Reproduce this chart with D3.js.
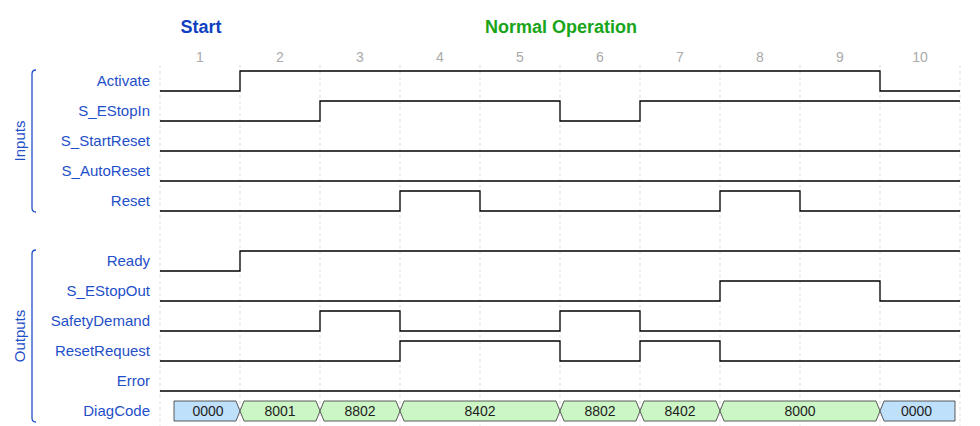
<!DOCTYPE html><html><head><meta charset="utf-8"><script src="https://cdn.jsdelivr.net/npm/d3@7"></script>
<style>body{margin:0;background:#fff}</style></head><body><svg id="c" width="980" height="426"></svg>
<script>
const steps=[1,2,3,4,5,6,7,8,9,10];
const inputNames=["Activate","S_EStopIn","S_StartReset","S_AutoReset","Reset"];
const inputWaves=[[0,1,1,1,1,1,1,1,1,0],[0,0,1,1,1,0,1,1,1,1],[0,0,0,0,0,0,0,0,0,0],[0,0,0,0,0,0,0,0,0,0],[0,0,0,1,0,0,0,1,0,0]];
const outputNames=["Ready","S_EStopOut","SafetyDemand","ResetRequest","Error"];
const outputWaves=[[0,1,1,1,1,1,1,1,1,1],[0,0,0,0,0,0,0,1,1,0],[0,0,1,0,0,1,0,0,0,0],[0,0,0,1,1,0,1,0,0,0],[0,0,0,0,0,0,0,0,0,0]];
const diagCodes=["0000","8001","8802","8402","8402","8802","8402","8000","8000","0000"];
const phases=[{label:"Start",step:1,color:"#1040c0"},{label:"Normal Operation",step:5.5,color:"#19a519"}];

const svg=d3.select("#c");
const x=d3.scaleLinear().domain([0.5,10.5]).range([160,960]);
const rowY=i=>81+i*30;
const labC="#1f4fc8";
svg.selectAll(".g").data(d3.range(0.5,10.6,1)).join("line").attr("x1",d=>x(d)).attr("x2",d=>x(d)).attr("y1",65).attr("y2",426).attr("stroke","#ddd").attr("stroke-dasharray","3,3");
svg.selectAll(".t").data(steps).join("text").attr("x",d=>x(d)).attr("y",62).attr("text-anchor","middle").attr("font-family","Arial,Liberation Sans").attr("font-size",14).attr("fill","#aaa").text(d=>d);
svg.selectAll(".p").data(phases).join("text").attr("x",d=>x(d.step)+1).attr("y",33).attr("text-anchor","middle").attr("font-family","Arial,Liberation Sans").attr("font-weight","bold").attr("font-size",18).attr("fill",d=>d.color).text(d=>d.label);
function wave(vals,row){
  const y=rowY(row);
  const pts=[];
  vals.forEach((v,i)=>{const yy=v?y-10:y+10;pts.push([x(i+0.5),yy],[x(i+1.5),yy]);});
  svg.append("path").attr("d",d3.line()(pts)).attr("fill","none").attr("stroke","#000").attr("stroke-width",1.3);
}
function label(t,row){svg.append("text").attr("x",150).attr("y",rowY(row)+5).attr("text-anchor","end").attr("font-family","Arial,Liberation Sans").attr("font-size",15).attr("fill",labC).text(t);}
inputNames.forEach((n,i)=>{label(n,i);wave(inputWaves[i],i);});
outputNames.forEach((n,i)=>{label(n,i+6);wave(outputWaves[i],i+6);});
label("DiagCode",11);
const segs=[];diagCodes.forEach((c,i)=>{if(segs.length&&segs[segs.length-1].c===c)segs[segs.length-1].e=i+1.5;else segs.push({c,s:i+0.5,e:i+1.5});});
const yT=rowY(11)-10,yB=rowY(11)+10,ym=rowY(11);
segs.forEach((s,k)=>{
  const first=k===0,last=k===segs.length-1;
  const x0=first?174:x(s.s)-2,x1=last?955:x(s.e)+2;
  const p=first?`M${x0},${yT}L${x0},${yB}`:`M${x0+6},${yT}L${x0+2},${ym}L${x0+6},${yB}`;
  const q=last?`L${x1},${yB}L${x1},${yT}Z`:`L${x1-6},${yB}L${x1-2},${ym}L${x1-6},${yT}Z`;
  svg.append("path").attr("d",p+q).attr("fill",s.c==="0000"?"#bfe0fb":"#cdf6c6").attr("stroke","#333").attr("stroke-width",0.8);
  svg.append("text").attr("x",(x0+x1)/2).attr("y",ym+5).attr("text-anchor","middle").attr("font-family","Arial,Liberation Sans").attr("font-size",14).attr("fill","#222").text(s.c);
});
function bracket(y0,y1,t){
  svg.append("path").attr("d",`M36,${y0}Q32,${y0} 32,${y0+4}L32,${y1-4}Q32,${y1} 36,${y1}`).attr("fill","none").attr("stroke",labC).attr("stroke-width",1.3);
  svg.append("text").attr("transform",`translate(25,${(y0+y1)/2}) rotate(-90)`).attr("text-anchor","middle").attr("font-family","Arial,Liberation Sans").attr("font-size",15).attr("fill",labC).text(t);
}
bracket(70,212,"Inputs");bracket(250,422,"Outputs");
</script></body></html>
